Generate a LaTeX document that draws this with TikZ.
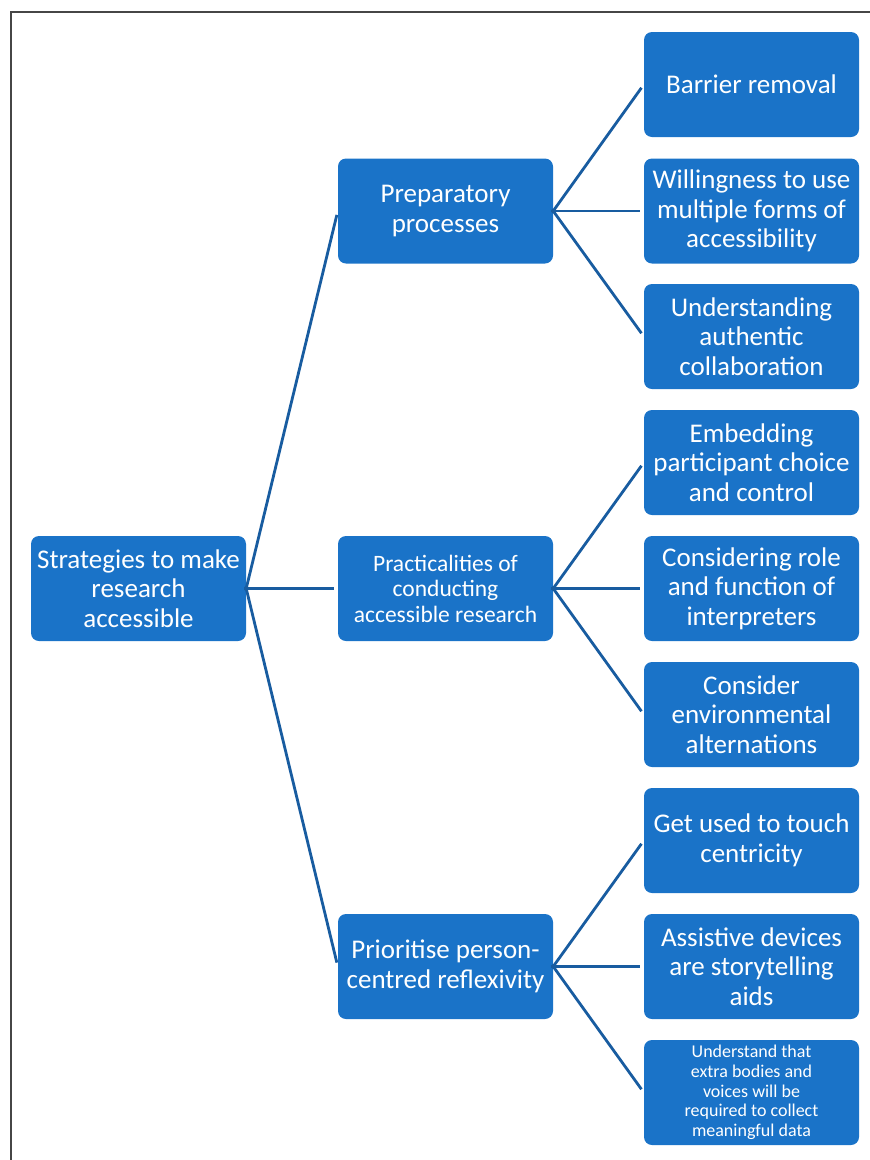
\documentclass[tikz,border=0pt]{standalone}
\usepackage{fontspec}
\setmainfont{Carlito}
\definecolor{boxblue}{RGB}{26,115,200}
\definecolor{lineblue}{RGB}{24,92,160}
\definecolor{framegray}{RGB}{70,70,70}
\begin{document}
\begin{tikzpicture}[x=1pt,y=-1pt,
  box/.style={rectangle, rounded corners=8pt, fill=boxblue, text=white,
    minimum width=215pt, minimum height=105pt, align=center,
    inner sep=0pt, font=\fontsize{27}{29.5}\selectfont},
  conn/.style={draw=lineblue, line width=2.8pt, shorten >=4pt, shorten <=-2pt}]
\useasboundingbox (0,0) rectangle (870,1160);
\draw[framegray, line width=1.6pt] (11,1160) -- (11,12) -- (870,12);
\node[box] (root) at (138.5,588.5) {Strategies to make\\ research\\ accessible};
\node[box] (p1) at (445.5,211) {Preparatory\\ processes};
\node[box, font=\fontsize{23.5}{25.5}\selectfont] (p2) at (445.5,588.5) {Practicalities of\\ conducting\\ accessible research};
\node[box] (p3) at (445.5,966.5) {Prioritise person-\\ centred reflexivity};
\node[box] (c1) at (751.5,84.5) {Barrier removal};
\node[box] (c2) at (751.5,211) {Willingness to use\\ multiple forms of\\ accessibility};
\node[box] (c3) at (751.5,336.5) {Understanding\\ authentic\\ collaboration};
\node[box] (c4) at (751.5,462.5) {Embedding\\ participant choice\\ and control};
\node[box] (c5) at (751.5,588.5) {Considering role\\ and function of\\ interpreters};
\node[box] (c6) at (751.5,714.5) {Consider\\ environmental\\ alternations};
\node[box] (c7) at (751.5,840.5) {Get used to touch\\ centricity};
\node[box] (c8) at (751.5,966.5) {Assistive devices\\ are storytelling\\ aids};
\node[box, font=\fontsize{18}{19.7}\selectfont] (c9) at (751.5,1092.5) {Understand that\\ extra bodies and\\ voices will be\\ required to collect\\ meaningful data};
\foreach \p in {p1,p2,p3} \draw[conn] (root.east) -- (\p.west);
\foreach \c in {c1,c2,c3} \draw[conn] (p1.east) -- (\c.west);
\foreach \c in {c4,c5,c6} \draw[conn] (p2.east) -- (\c.west);
\foreach \c in {c7,c8,c9} \draw[conn] (p3.east) -- (\c.west);
\end{tikzpicture}
\end{document}
